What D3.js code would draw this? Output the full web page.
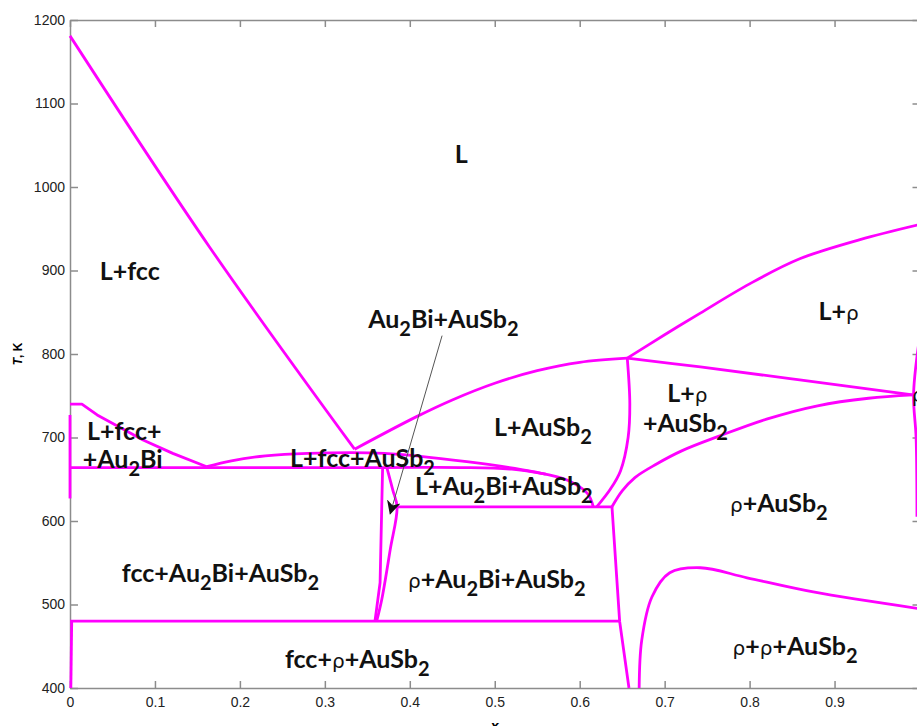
<!DOCTYPE html>
<html>
<head>
<meta charset="utf-8">
<script src="https://cdn.jsdelivr.net/npm/d3@7"></script>
<style>
  body { margin: 0; background: #fff; }
  svg { display: block; }
  .tick text { font-family: 'Liberation Sans', Arial, sans-serif; font-size: 14px; fill: #222; }
  .phase { font-family: Lato, 'Open Sans', sans-serif; font-weight: bold; font-size: 25px; fill: #111; }
</style>
</head>
<body>
<div class="container"></div>
<script>
// phase boundaries, [x, T(K)]
const fccLiquidus = [[0, 1181], [0.165, 927], [0.335, 686]];
const ausb2Liquidus = [[0.335, 686], [0.408, 725], [0.45, 745], [0.50, 765], [0.55, 780], [0.60, 790], [0.656, 795]];
const rhoLiquidus = [[0.656, 795], [0.70, 823], [0.742, 849], [0.80, 884], [0.859, 914], [0.93, 937], [1, 955]];
const rhoUpper = [[0.656, 795], [0.742, 784.5], [0.859, 769], [0.992, 751]];
const rhoLower = [[0.638, 617], [0.65, 636], [0.665, 652], [0.69, 668], [0.72, 684], [0.765, 702], [0.82, 722], [0.88, 738], [0.94, 747], [0.992, 751]];
const ausb2Solvus = [[0.656, 795], [0.659, 740], [0.657, 700], [0.648, 660], [0.636, 638], [0.62, 617]];
const au2biDome = [[0.161, 665], [0.19, 672], [0.23, 678], [0.28, 681], [0.37, 681], [0.467, 671], [0.545, 659], [0.585, 649], [0.609, 633], [0.616, 617]];
const fccAu2biLine = [[0, 664], [0.37, 664], [0.46, 664], [0.52, 662], [0.56, 656]];
const fccLiquidus2 = [[0, 740], [0.014, 740], [0.032, 727], [0.086, 697], [0.121, 681], [0.161, 665]];
const leftEdgeUpper = [[0, 727], [0, 627]];
const leftEdgeLower = [[0.002, 480], [0.001, 400]];
const line480 = [[0, 480], [0.647, 480]];
const line617 = [[0.385, 617], [0.638, 617]];
const wedgeLeft = [[0.368, 664], [0.365, 526], [0.359, 480]];
const wedgeRight = [[0.373, 664], [0.380, 637], [0.385, 617], [0.377, 566], [0.367, 506], [0.361, 480]];
const rhoSolvus = [[0.638, 617], [0.647, 480], [0.658, 400]];
const rhoDome = [[0.670, 400], [0.673, 457], [0.685, 509], [0.706, 538], [0.742, 544], [0.797, 532], [0.875, 515], [1, 495]];
const rightEdge = [[0.999, 812], [0.993, 751], [0.996, 700], [0.997, 605]];

const curved = [ausb2Liquidus, rhoLiquidus, rhoUpper, rhoLower, ausb2Solvus, au2biDome,
  fccAu2biLine, wedgeRight, rhoDome, rightEdge, fccLiquidus];
const straight = [fccLiquidus2, leftEdgeUpper, leftEdgeLower, line480, line617, wedgeLeft, rhoSolvus];

// region labels: text ('_' = subscript next char), anchor [x, T]
const labelText = ['L', 'L+fcc', 'Au_2Bi+AuSb_2', 'L+ρ', 'L+fcc+', '+Au_2Bi', 'L+AuSb_2', 'L+ρ', '+AuSb_2',
  'L+fcc+AuSb_2', 'L+Au_2Bi+AuSb_2', 'ρ+AuSb_2', 'fcc+Au_2Bi+AuSb_2', 'ρ+Au_2Bi+AuSb_2', 'fcc+ρ+AuSb_2', 'ρ+ρ+AuSb_2', 'ρ'];
const labelAt = [[0.453, 1029], [0.035, 889], [0.351, 831], [0.881, 841], [0.020, 697], [0.015, 664], [0.499, 702],
  [0.703, 742], [0.6745, 707], [0.259, 665], [0.406, 631], [0.777, 611], [0.061, 527], [0.398, 520],
  [0.253, 424], [0.780, 440], [0.991, 743]];

const xTicks = [0, 0.1, 0.2, 0.3, 0.4, 0.5, 0.6, 0.7, 0.8, 0.9, 1];
const yTicks = [400, 500, 600, 700, 800, 900, 1000, 1100, 1200];

const W = 917, H = 726;
const x = d3.scaleLinear([0, 1], [70, 919.5]);
const y = d3.scaleLinear([400, 1200], [688, 20]);

const svg = d3.select('.container').append('svg')
  .attr('width', W).attr('height', H);

const axisColor = '#8c8c8c';

const gx = svg.append('g').attr('transform', `translate(0,${y(400)})`)
  .call(d3.axisBottom(x).tickValues(xTicks).tickSizeInner(-7).tickSizeOuter(0).tickPadding(9)
    .tickFormat(d => d === 1 ? '' : String(d)));
const gy = svg.append('g').attr('transform', `translate(${x(0)},0)`)
  .call(d3.axisLeft(y).tickValues(yTicks).tickSizeInner(-8).tickSizeOuter(0).tickPadding(5)
    .tickFormat(d => String(d)));
const gt = svg.append('g').attr('transform', `translate(0,${y(1200)})`)
  .call(d3.axisTop(x).tickValues(xTicks).tickSizeInner(-7).tickSizeOuter(0).tickFormat(''));
const gr = svg.append('g').attr('transform', `translate(${x(1)},0)`)
  .call(d3.axisRight(y).tickValues(yTicks).tickSizeInner(-7).tickSizeOuter(0).tickFormat(''));
[gx, gy, gt, gr].forEach(g => {
  g.selectAll('path, line').attr('stroke', axisColor).attr('stroke-width', 1.5);
});

const smooth = d3.line()
  .x(d => x(d[0]))
  .y(d => y(d[1]))
  .curve(d3.curveCatmullRom.alpha(0.5));
const plain = d3.line()
  .x(d => x(d[0]))
  .y(d => y(d[1]));

const bg = svg.append('g')
  .attr('fill', 'none')
  .attr('stroke', '#ff00ff')
  .attr('stroke-width', 2.8)
  .attr('stroke-linejoin', 'round');
bg.selectAll('path.c').data(curved).join('path').attr('class', 'c').attr('d', smooth);
bg.selectAll('path.s').data(straight).join('path').attr('class', 's').attr('d', plain);

// arrow for Au2Bi+AuSb2
svg.append('defs').append('marker')
  .attr('id', 'arrow')
  .attr('viewBox', '0 0 10 10')
  .attr('refX', 9).attr('refY', 5)
  .attr('markerWidth', 14).attr('markerHeight', 14)
  .attr('markerUnits', 'userSpaceOnUse')
  .attr('orient', 'auto')
  .append('path')
  .attr('d', 'M0,0 L10,5 L0,10 L3,5 Z')
  .attr('fill', '#111');

const arrowFrom = [0.438, 822], arrowTo = [0.377, 609];
svg.append('line')
  .attr('x1', x(arrowFrom[0])).attr('y1', y(arrowFrom[1]))
  .attr('x2', x(arrowTo[0])).attr('y2', y(arrowTo[1]))
  .attr('stroke', '#555').attr('stroke-width', 1)
  .attr('marker-end', 'url(#arrow)');

// labels
labelText.forEach((str, i) => {
  const t = svg.append('text').attr('class', 'phase')
    .attr('x', x(labelAt[i][0])).attr('y', y(labelAt[i][1]));
  let sub = false;
  const parts = [];
  let buf = '';
  for (const ch of str) {
    if (ch === '_') { if (buf) parts.push({ s: buf }); buf = ''; sub = true; continue; }
    if (sub) { parts.push({ s: ch, sub: true }); sub = false; continue; }
    if (ch === 'ρ') {
      if (buf) parts.push({ s: buf });
      buf = '';
      parts.push({ s: ch, rho: true });
      continue;
    }
    buf += ch;
  }
  if (buf) parts.push({ s: buf });
  let down = 0;
  parts.forEach(p => {
    const ts = t.append('tspan').text(p.s);
    if (p.sub) { ts.attr('dy', 8).style('font-size', '20px'); down = 8; }
    else if (down) { ts.attr('dy', -down); down = 0; }
    if (p.rho) ts.style('font-weight', 'normal').style('font-family', "'DejaVu Sans', sans-serif").style('font-size', '20px');
  });
});

// axis titles
svg.append('text')
  .attr('transform', `translate(22,${y(800)}) rotate(-90)`)
  .attr('text-anchor', 'middle')
  .style('font-family', "'Liberation Sans', Arial, sans-serif")
  .style('font-size', '12px')
  .style('font-weight', 'bold')
  .html('<tspan font-style="italic">T</tspan>, K');

svg.append('text')
  .attr('x', x(0.5)).attr('y', 731)
  .attr('text-anchor', 'middle')
  .style('font-family', "'Liberation Sans', Arial, sans-serif")
  .style('font-size', '14px')
  .style('font-weight', 'bold')
  .style('font-style', 'italic')
  .text('x');
</script>
</body>
</html>
